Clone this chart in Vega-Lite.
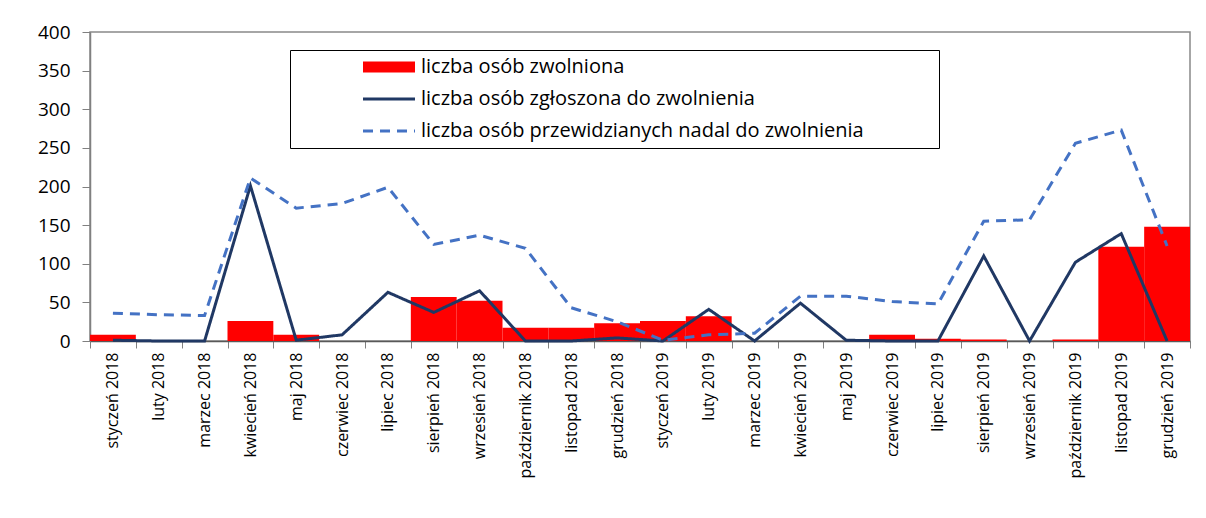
{
  "$schema": "https://vega.github.io/schema/vega-lite/v6.json",
  "width": 1100,
  "height": 309,
  "autosize": {"type": "none"},
  "padding": {"left": 90, "top": 32, "right": 16, "bottom": 177},
  "background": "white",
  "config": {
    "font": "Open Sans",
    "view": {"stroke": "#898989", "strokeWidth": 1.5},
    "axis": {"labelColor": "#000000", "labelFont": "Open Sans", "domainColor": "#808080", "tickColor": "#808080", "grid": false, "title": null}
  },
  "datasets": {
    "rows": [
      {"m": "styczeń 2018", "s": "liczba osób zwolniona", "v": 8},
      {"m": "luty 2018", "s": "liczba osób zwolniona", "v": 0},
      {"m": "marzec 2018", "s": "liczba osób zwolniona", "v": 0},
      {"m": "kwiecień 2018", "s": "liczba osób zwolniona", "v": 26},
      {"m": "maj 2018", "s": "liczba osób zwolniona", "v": 8},
      {"m": "czerwiec 2018", "s": "liczba osób zwolniona", "v": 0},
      {"m": "lipiec 2018", "s": "liczba osób zwolniona", "v": 0},
      {"m": "sierpień 2018", "s": "liczba osób zwolniona", "v": 57},
      {"m": "wrzesień 2018", "s": "liczba osób zwolniona", "v": 52},
      {"m": "październik 2018", "s": "liczba osób zwolniona", "v": 17},
      {"m": "listopad 2018", "s": "liczba osób zwolniona", "v": 17},
      {"m": "grudzień 2018", "s": "liczba osób zwolniona", "v": 23},
      {"m": "styczeń 2019", "s": "liczba osób zwolniona", "v": 26},
      {"m": "luty 2019", "s": "liczba osób zwolniona", "v": 32},
      {"m": "marzec 2019", "s": "liczba osób zwolniona", "v": 0},
      {"m": "kwiecień 2019", "s": "liczba osób zwolniona", "v": 0},
      {"m": "maj 2019", "s": "liczba osób zwolniona", "v": 0},
      {"m": "czerwiec 2019", "s": "liczba osób zwolniona", "v": 8},
      {"m": "lipiec 2019", "s": "liczba osób zwolniona", "v": 3},
      {"m": "sierpień 2019", "s": "liczba osób zwolniona", "v": 2},
      {"m": "wrzesień 2019", "s": "liczba osób zwolniona", "v": 0},
      {"m": "październik 2019", "s": "liczba osób zwolniona", "v": 2},
      {"m": "listopad 2019", "s": "liczba osób zwolniona", "v": 122},
      {"m": "grudzień 2019", "s": "liczba osób zwolniona", "v": 148},
      {"m": "styczeń 2018", "s": "liczba osób zgłoszona do zwolnienia", "v": 1},
      {"m": "luty 2018", "s": "liczba osób zgłoszona do zwolnienia", "v": 0},
      {"m": "marzec 2018", "s": "liczba osób zgłoszona do zwolnienia", "v": 0},
      {"m": "kwiecień 2018", "s": "liczba osób zgłoszona do zwolnienia", "v": 201},
      {"m": "maj 2018", "s": "liczba osób zgłoszona do zwolnienia", "v": 1},
      {"m": "czerwiec 2018", "s": "liczba osób zgłoszona do zwolnienia", "v": 8},
      {"m": "lipiec 2018", "s": "liczba osób zgłoszona do zwolnienia", "v": 63},
      {"m": "sierpień 2018", "s": "liczba osób zgłoszona do zwolnienia", "v": 37},
      {"m": "wrzesień 2018", "s": "liczba osób zgłoszona do zwolnienia", "v": 65},
      {"m": "październik 2018", "s": "liczba osób zgłoszona do zwolnienia", "v": 0},
      {"m": "listopad 2018", "s": "liczba osób zgłoszona do zwolnienia", "v": 0},
      {"m": "grudzień 2018", "s": "liczba osób zgłoszona do zwolnienia", "v": 4},
      {"m": "styczeń 2019", "s": "liczba osób zgłoszona do zwolnienia", "v": 0},
      {"m": "luty 2019", "s": "liczba osób zgłoszona do zwolnienia", "v": 41},
      {"m": "marzec 2019", "s": "liczba osób zgłoszona do zwolnienia", "v": 0},
      {"m": "kwiecień 2019", "s": "liczba osób zgłoszona do zwolnienia", "v": 49},
      {"m": "maj 2019", "s": "liczba osób zgłoszona do zwolnienia", "v": 1},
      {"m": "czerwiec 2019", "s": "liczba osób zgłoszona do zwolnienia", "v": 0},
      {"m": "lipiec 2019", "s": "liczba osób zgłoszona do zwolnienia", "v": 0},
      {"m": "sierpień 2019", "s": "liczba osób zgłoszona do zwolnienia", "v": 110},
      {"m": "wrzesień 2019", "s": "liczba osób zgłoszona do zwolnienia", "v": 0},
      {"m": "październik 2019", "s": "liczba osób zgłoszona do zwolnienia", "v": 102},
      {"m": "listopad 2019", "s": "liczba osób zgłoszona do zwolnienia", "v": 139},
      {"m": "grudzień 2019", "s": "liczba osób zgłoszona do zwolnienia", "v": 0},
      {"m": "styczeń 2018", "s": "liczba osób przewidzianych nadal do zwolnienia", "v": 36},
      {"m": "luty 2018", "s": "liczba osób przewidzianych nadal do zwolnienia", "v": 34},
      {"m": "marzec 2018", "s": "liczba osób przewidzianych nadal do zwolnienia", "v": 33},
      {"m": "kwiecień 2018", "s": "liczba osób przewidzianych nadal do zwolnienia", "v": 211},
      {"m": "maj 2018", "s": "liczba osób przewidzianych nadal do zwolnienia", "v": 172},
      {"m": "czerwiec 2018", "s": "liczba osób przewidzianych nadal do zwolnienia", "v": 178},
      {"m": "lipiec 2018", "s": "liczba osób przewidzianych nadal do zwolnienia", "v": 199},
      {"m": "sierpień 2018", "s": "liczba osób przewidzianych nadal do zwolnienia", "v": 125},
      {"m": "wrzesień 2018", "s": "liczba osób przewidzianych nadal do zwolnienia", "v": 137},
      {"m": "październik 2018", "s": "liczba osób przewidzianych nadal do zwolnienia", "v": 120},
      {"m": "listopad 2018", "s": "liczba osób przewidzianych nadal do zwolnienia", "v": 43},
      {"m": "grudzień 2018", "s": "liczba osób przewidzianych nadal do zwolnienia", "v": 25},
      {"m": "styczeń 2019", "s": "liczba osób przewidzianych nadal do zwolnienia", "v": 1},
      {"m": "luty 2019", "s": "liczba osób przewidzianych nadal do zwolnienia", "v": 8},
      {"m": "marzec 2019", "s": "liczba osób przewidzianych nadal do zwolnienia", "v": 10},
      {"m": "kwiecień 2019", "s": "liczba osób przewidzianych nadal do zwolnienia", "v": 58},
      {"m": "maj 2019", "s": "liczba osób przewidzianych nadal do zwolnienia", "v": 58},
      {"m": "czerwiec 2019", "s": "liczba osób przewidzianych nadal do zwolnienia", "v": 51},
      {"m": "lipiec 2019", "s": "liczba osób przewidzianych nadal do zwolnienia", "v": 48},
      {"m": "sierpień 2019", "s": "liczba osób przewidzianych nadal do zwolnienia", "v": 155},
      {"m": "wrzesień 2019", "s": "liczba osób przewidzianych nadal do zwolnienia", "v": 157},
      {"m": "październik 2019", "s": "liczba osób przewidzianych nadal do zwolnienia", "v": 256},
      {"m": "listopad 2019", "s": "liczba osób przewidzianych nadal do zwolnienia", "v": 273},
      {"m": "grudzień 2019", "s": "liczba osób przewidzianych nadal do zwolnienia", "v": 123}
    ]
  },
  "data": {"name": "rows"},
  "encoding": {
    "x": {
      "field": "m",
      "type": "nominal",
      "sort": ["styczeń 2018", "luty 2018", "marzec 2018", "kwiecień 2018", "maj 2018", "czerwiec 2018", "lipiec 2018", "sierpień 2018", "wrzesień 2018", "październik 2018", "listopad 2018", "grudzień 2018", "styczeń 2019", "luty 2019", "marzec 2019", "kwiecień 2019", "maj 2019", "czerwiec 2019", "lipiec 2019", "sierpień 2019", "wrzesień 2019", "październik 2019", "listopad 2019", "grudzień 2019"],
      "scale": {"paddingInner": 0, "paddingOuter": 0},
      "axis": {"labelAngle": -90, "labelFontSize": 16, "tickBand": "extent", "tickSize": 7, "labelPadding": 4, "domainColor": "#595959", "domainWidth": 1.5}
    },
    "y": {
      "field": "v",
      "type": "quantitative",
      "scale": {"domain": [0, 400]},
      "axis": {"values": [0, 50, 100, 150, 200, 250, 300, 350, 400], "labelFontSize": 19, "tickSize": 8, "labelPadding": 12, "domainWidth": 1.5}
    },
    "color": {
      "field": "s",
      "type": "nominal",
      "scale": {
        "domain": ["liczba osób zwolniona", "liczba osób zgłoszona do zwolnienia", "liczba osób przewidzianych nadal do zwolnienia"],
        "range": ["#FF0000", "#203864", "#4472C4"]
      },
      "legend": {
        "title": null,
        "orient": "none",
        "legendX": 200,
        "legendY": 18,
        "fillColor": "white",
        "strokeColor": "#000000",
        "padding": 7,
        "rowPadding": 12,
        "labelFont": "Open Sans",
        "labelFontSize": 20,
        "labelColor": "#000000",
        "labelLimit": 900,
        "symbolSize": 100,
        "symbolOffset": 82,
        "labelOffset": 22,
        "symbolStrokeWidth": 3,
        "labelExpr": "datum.label + '\u00a0\u00a0\u00a0\u00a0\u00a0\u00a0\u00a0\u00a0\u00a0\u00a0\u00a0\u00a0\u00a0\u200b'",
        "encode": {
          "symbols": {
            "update": {
              "shape": {"signal": "datum.value === 'liczba osób zwolniona' ? 'M-5.2,-1.1H5.2V1.1H-5.2Z' : 'M-5.2,0H5.2'"},
              "fill": {"signal": "datum.value === 'liczba osób zwolniona' ? '#FF0000' : 'transparent'"},
              "stroke": {"signal": "datum.value === 'liczba osób zwolniona' ? 'transparent' : (datum.value === 'liczba osób zgłoszona do zwolnienia' ? '#203864' : '#4472C4')"},
              "strokeDash": {"signal": "datum.value === 'liczba osób przewidzianych nadal do zwolnienia' ? [10, 7] : [1, 0]"},
              "strokeWidth": {"signal": "datum.value === 'liczba osób zwolniona' ? 0 : 3"},
              "strokeCap": {"value": "butt"},
              "opacity": {"value": 1},
              "fillOpacity": {"value": 1},
              "strokeOpacity": {"value": 1}
            }
          }
        }
      }
    }
  },
  "layer": [
    {
      "transform": [{"filter": "datum.s === 'liczba osób zwolniona'"}],
      "mark": {"type": "bar", "opacity": 1}
    },
    {
      "transform": [{"filter": "datum.s !== 'liczba osób zwolniona'"}],
      "mark": {"type": "line", "strokeWidth": 3},
      "encoding": {
        "strokeDash": {
          "field": "s",
          "type": "nominal",
          "scale": {"domain": ["liczba osób zgłoszona do zwolnienia", "liczba osób przewidzianych nadal do zwolnienia"], "range": [[1, 0], [10, 7]]},
          "legend": null
        }
      }
    }
  ]
}
